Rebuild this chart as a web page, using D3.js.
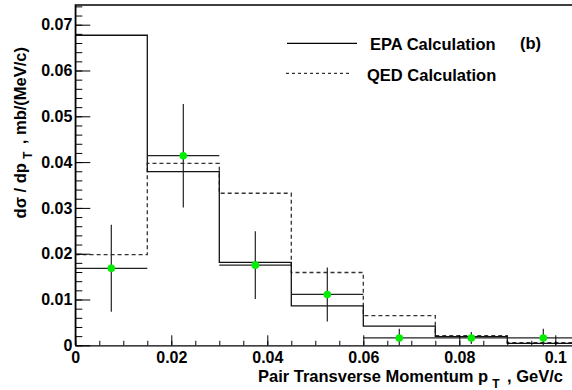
<!DOCTYPE html>
<html>
<head>
<meta charset="utf-8">
<script src="https://cdn.jsdelivr.net/npm/d3@7"></script>
<style>
  body { margin: 0; background: #fff; }
  svg { display: block; font-family: "Liberation Sans", Arial, sans-serif; font-weight: bold; }
</style>
</head>
<body>
<div id="chart"></div>
<script>
// bin edges of the pT histograms (GeV/c)
const binEdges = [0, 0.015, 0.03, 0.045, 0.06, 0.075, 0.09, 0.105];
// EPA calculation (solid) and QED calculation (dashed), mb/(MeV/c)
const epaValues = [0.0677, 0.0379, 0.0181, 0.0086, 0.0042, 0.0019, 0.0004];
const qedValues = [0.0198, 0.0397, 0.0332, 0.0159, 0.0065, 0.0021, 0.0006];
// measured points
const dataX = [0.0075, 0.0225, 0.0375, 0.0525, 0.0675, 0.0825, 0.0975];
const dataY = [0.0168, 0.0414, 0.0175, 0.0111, 0.0016, 0.0016, 0.0016];
const dataErr = [0.0095, 0.0113, 0.0074, 0.0059, 0.0020, 0.0013, 0.0020];
// tick labels
const xTicks = [0, 0.02, 0.04, 0.06, 0.08, 0.1];
const xTickLabels = ["0", "0.02", "0.04", "0.06", "0.08", "0.1"];
const yTicks = [0, 0.01, 0.02, 0.03, 0.04, 0.05, 0.06, 0.07];
const yTickLabels = ["0", "0.01", "0.02", "0.03", "0.04", "0.05", "0.06", "0.07"];

const width = 572, height = 390;
const padLeft = 75.3, padTop = 5, axisY = 345.3;

var svg = d3.select("#chart").append("svg")
    .attr("width", width)
    .attr("height", height);

var x = d3.scaleLinear().domain([0, 0.105]).range([padLeft, padLeft + 504]);
var y = d3.scaleLinear().domain([0, 0.0743]).range([axisY, padTop]);

svg.append("clipPath").attr("id", "frame")
  .append("rect")
    .attr("x", padLeft).attr("y", padTop)
    .attr("width", x(0.105) - padLeft).attr("height", axisY - padTop);

var plot = svg.append("g").attr("clip-path", "url(#frame)");

// step outline of a histogram
function stepLine(values) {
    var pts = [[binEdges[0], 0]];
    values.forEach(function(v, i) {
        pts.push([binEdges[i], v]);
        pts.push([binEdges[i + 1], v]);
    });
    pts.push([binEdges[binEdges.length - 1], 0]);
    return d3.line().x(d => x(d[0])).y(d => y(d[1]))(pts);
}

plot.append("path")
    .attr("d", stepLine(qedValues))
    .attr("fill", "none")
    .attr("stroke", "#333")
    .attr("stroke-width", 1.3)
    .attr("stroke-dasharray", "4,3");

plot.append("path")
    .attr("d", stepLine(epaValues))
    .attr("fill", "none")
    .attr("stroke", "#111")
    .attr("stroke-width", 1.3);

// error bars
var pts = dataX.map((d, i) => ({x: d, y: dataY[i], e: dataErr[i], x0: binEdges[i], x1: binEdges[i + 1]}));

plot.selectAll(".hbar").data(pts).enter().append("line")
    .attr("x1", d => x(d.x0)).attr("x2", d => x(d.x1))
    .attr("y1", d => y(d.y)).attr("y2", d => y(d.y))
    .attr("stroke", "#222").attr("stroke-width", 1.2);

plot.selectAll(".vbar").data(pts).enter().append("line")
    .attr("x1", d => x(d.x)).attr("x2", d => x(d.x))
    .attr("y1", d => y(d.y + d.e)).attr("y2", d => y(d.y - d.e))
    .attr("stroke", "#222").attr("stroke-width", 1.2);

plot.selectAll("circle").data(pts).enter().append("circle")
    .attr("cx", d => x(d.x)).attr("cy", d => y(d.y))
    .attr("r", 3.8)
    .attr("fill", "#00ee00");

// frame
svg.append("path")
    .attr("d", "M" + x(0.105) + "," + padTop + "H" + padLeft + "V" + axisY)
    .attr("fill", "none").attr("stroke", "#000").attr("stroke-width", 1.3);

// x axis
var xMinor = d3.range(0, 0.1051, 0.005);
svg.append("g")
    .attr("transform", "translate(0," + axisY + ")")
    .call(d3.axisBottom(x).tickValues(xMinor).tickSizeInner(-4.5).tickSizeOuter(0).tickFormat(""))
    .call(g => g.select(".domain").remove());
var xAxis = svg.append("g")
    .attr("transform", "translate(0," + axisY + ")")
    .call(d3.axisBottom(x).tickValues(xTicks).tickSizeInner(-10).tickSizeOuter(0).tickPadding(6)
        .tickFormat((d, i) => xTickLabels[i]));
xAxis.select(".domain").attr("stroke-width", 1.3);
xAxis.selectAll("text").attr("font-size", 16).attr("font-family", "Liberation Sans, Arial, sans-serif").attr("font-weight", "bold");

// y axis
var yMinor = d3.range(0, 0.0743, 0.002);
svg.append("g")
    .attr("transform", "translate(" + padLeft + ",0)")
    .call(d3.axisLeft(y).tickValues(yMinor).tickSizeInner(-7).tickSizeOuter(0).tickFormat(""))
    .call(g => g.select(".domain").remove());
var yAxis = svg.append("g")
    .attr("transform", "translate(" + padLeft + ",0)")
    .call(d3.axisLeft(y).tickValues(yTicks).tickSizeInner(-15).tickSizeOuter(0).tickPadding(3)
        .tickFormat((d, i) => yTickLabels[i]));
yAxis.select(".domain").attr("stroke-width", 1.3);
yAxis.selectAll("text").attr("font-size", 16).attr("font-family", "Liberation Sans, Arial, sans-serif").attr("font-weight", "bold");

// axis titles
var xt = svg.append("text")
    .attr("x", 563).attr("y", 381.5)
    .attr("text-anchor", "end")
    .attr("font-size", 16.5);
xt.append("tspan").text("Pair Transverse Momentum p");
xt.append("tspan").attr("dx", 4).attr("dy", 6).attr("font-size", 12).text("T");
xt.append("tspan").attr("dx", 3).attr("dy", -6).text(" , GeV/c");

var yt = svg.append("text")
    .attr("transform", "translate(26,47) rotate(-90)")
    .attr("text-anchor", "end")
    .attr("font-size", 16.5);
yt.append("tspan").text("d\u03c3 / dp");
yt.append("tspan").attr("dx", 4).attr("dy", 6).attr("font-size", 12).text("T");
yt.append("tspan").attr("dx", 3).attr("dy", -6).text(" , mb/(MeV/c)");

// legend
var legend = svg.append("g");
legend.append("line")
    .attr("x1", 287).attr("x2", 357).attr("y1", 43.3).attr("y2", 43.3)
    .attr("stroke", "#000").attr("stroke-width", 1.2);
legend.append("text").attr("x", 370).attr("y", 50).attr("font-size", 16.5).text("EPA Calculation");
legend.append("line")
    .attr("x1", 286).attr("x2", 352).attr("y1", 73.3).attr("y2", 73.3)
    .attr("stroke", "#000").attr("stroke-width", 1).attr("stroke-dasharray", "3,3");
legend.append("text").attr("x", 367).attr("y", 80.5).attr("font-size", 16.5).text("QED Calculation");
legend.append("text").attr("x", 520).attr("y", 49).attr("font-size", 16.5).text("(b)");
</script>
</body>
</html>
